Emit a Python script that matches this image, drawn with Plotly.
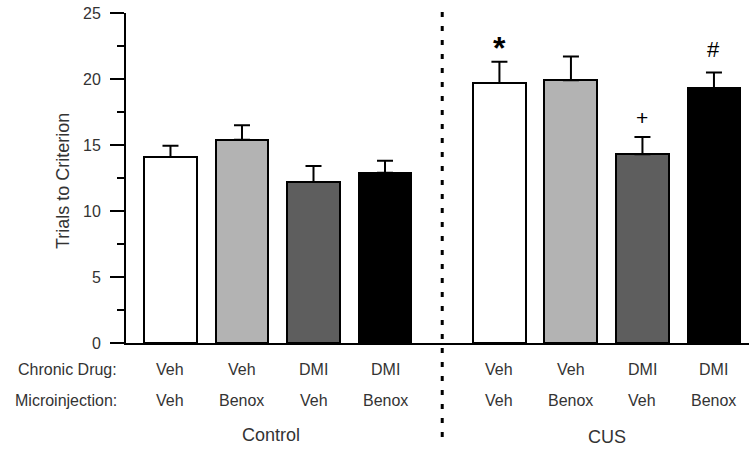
import plotly.graph_objects as go

# ---- data ----
chronic_drug = ["Veh", "Veh", "DMI", "DMI", "Veh", "Veh", "DMI", "DMI"]
microinjection = ["Veh", "Benox", "Veh", "Benox", "Veh", "Benox", "Veh", "Benox"]
groups = ["Control", "CUS"]
trials = [14.1, 15.4, 12.2, 12.9, 19.7, 19.9, 14.3, 19.3]
sem = [0.85, 1.1, 1.2, 0.9, 1.6, 1.8, 1.3, 1.2]
marks = ["", "", "", "", "*", "", "+", "#"]
positions = [0, 1, 2, 3, 4.6, 5.6, 6.6, 7.6]
fills = ["#ffffff", "#b3b3b3", "#5e5e5e", "#000000"] * 2

FONT = "Liberation Sans, Arial, Helvetica, sans-serif"
TXT = "#333333"
xr = [-0.622, 8.09]

fig = go.Figure()
fig.add_trace(go.Bar(
    x=positions, y=trials, width=0.74,
    marker=dict(color=fills, line=dict(color="black", width=2)),
    error_y=dict(type="data", array=sem, arrayminus=[0] * len(sem),
                 symmetric=False, color="black", thickness=2, width=8),
    showlegend=False, hoverinfo="skip",
))

ann = []
# significance marks
mark_style = {"*": dict(size=32, shift=-6, bold=True),
              "+": dict(size=21, shift=6, bold=False),
              "#": dict(size=22, shift=8, bold=False)}
for p, v, e, m in zip(positions, trials, sem, marks):
    if m:
        st = mark_style[m]
        ann.append(dict(x=p, y=v + e, xref="x", yref="y",
                        text=f"<b>{m}</b>" if st["bold"] else m, showarrow=False,
                        yanchor="bottom", yshift=st["shift"],
                        font=dict(family=FONT, size=st["size"], color="black")))
# category rows
for p, c, mi in zip(positions, chronic_drug, microinjection):
    ann.append(dict(x=p, y=0, xref="x", yref="paper", text=c, showarrow=False,
                    yanchor="middle", yshift=-26, font=dict(family=FONT, size=16, color=TXT)))
    ann.append(dict(x=p, y=0, xref="x", yref="paper", text=mi, showarrow=False,
                    yanchor="middle", yshift=-57, font=dict(family=FONT, size=16, color=TXT)))
# row labels
for lab, ys in [("Chronic Drug:", -26), ("Microinjection:", -57)]:
    ann.append(dict(x=0, y=0, xref="paper", yref="paper", text=lab, showarrow=False,
                    xanchor="right", yanchor="middle", xshift=-7, yshift=ys,
                    font=dict(family=FONT, size=16, color=TXT)))
# group labels
ann.append(dict(x=sum(positions[:4]) / 4, y=0, xref="x", yref="paper", text=groups[0],
                showarrow=False, yanchor="middle", xshift=-7, yshift=-92,
                font=dict(family=FONT, size=18, color=TXT)))
ann.append(dict(x=sum(positions[4:]) / 4, y=0, xref="x", yref="paper", text=groups[1],
                showarrow=False, yanchor="middle", yshift=-94,
                font=dict(family=FONT, size=18, color=TXT)))
# y title
ann.append(dict(x=0, y=0.5, xref="paper", yref="paper", text="Trials to Criterion",
                showarrow=False, textangle=-90, xanchor="center", yanchor="middle",
                xshift=-63, yshift=-3, font=dict(family=FONT, size=18, color=TXT)))

x_div = (positions[3] + positions[4]) / 2
x_div_paper = (x_div - xr[0]) / (xr[1] - xr[0])

fig.update_layout(
    width=749, height=449,
    margin=dict(l=126, r=0, t=13, b=106),
    paper_bgcolor="white", plot_bgcolor="white",
    annotations=ann,
    shapes=[dict(type="line", xref="paper", yref="paper", x0=x_div_paper, x1=x_div_paper,
                 y0=-0.285, y1=1.03, line=dict(color="black", width=3, dash="5px,9px"))],
    xaxis=dict(range=xr, showgrid=False, zeroline=False, showticklabels=False,
               ticks="", showline=True, linecolor="black", linewidth=2),
    yaxis=dict(range=[0, 25], showgrid=False, zeroline=False, showline=True,
               linecolor="black", linewidth=2, ticks="outside", ticklen=14,
               tickwidth=2, tickcolor="black", tickvals=[0, 5, 10, 15, 20, 25],
               ticklabelstandoff=6,
               tickfont=dict(family=FONT, size=16, color=TXT),
               minor=dict(tickvals=[2.5, 7.5, 12.5, 17.5, 22.5], ticks="outside",
                          ticklen=7, tickwidth=2, tickcolor="black")),
    bargap=0,
)

fig.write_html("out.html", config={"displayModeBar": False},
               post_script="document.body.style.margin='0';document.body.style.overflow='hidden';")
